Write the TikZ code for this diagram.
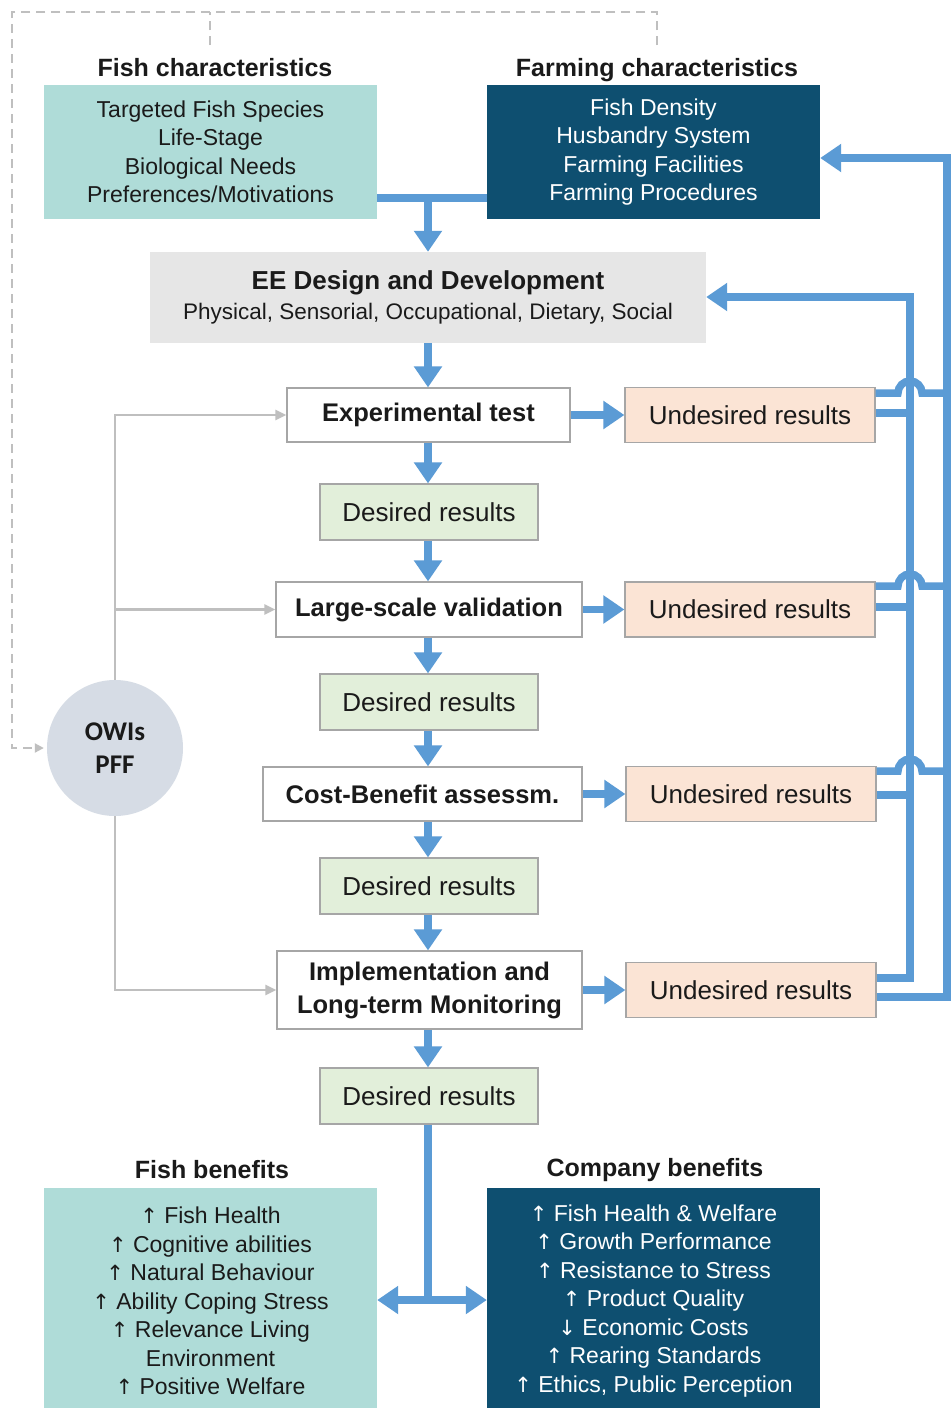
\documentclass[tikz,border=0pt]{standalone}
\usepackage{fontspec}
\setmainfont{Liberation Sans}
\newfontfamily\calibri{Carlito}
\newfontfamily\arrowfont{DejaVu Sans}
\newcommand\upar{{\arrowfont\fontsize{21}{28.5}\selectfont ↑}}
\newcommand\downar{{\arrowfont\fontsize{21}{28.5}\selectfont ↓}}
\usetikzlibrary{arrows.meta}
\definecolor{teal1}{HTML}{AFDCD8}
\definecolor{navy1}{HTML}{0E4F70}
\definecolor{grey1}{HTML}{E6E6E6}
\definecolor{peach}{HTML}{FBE4D5}
\definecolor{green1}{HTML}{E2EFDA}
\definecolor{circ}{HTML}{D6DCE5}
\definecolor{flow}{HTML}{5B9BD5}
\definecolor{conn}{HTML}{BFBFBF}
\definecolor{bord}{HTML}{A6A6A6}
\definecolor{txt}{HTML}{1A1A1A}
\begin{document}
\begin{tikzpicture}[x=1pt,y=-1pt,
  box/.style={draw=bord, line width=1.2pt, inner sep=0pt, align=center, text=txt,
    font=\fontsize{26}{30}\selectfont},
  procbox/.style={box, fill=white, font=\bfseries\fontsize{25.5}{33}\selectfont},
  undbox/.style={box, fill=peach, minimum width=250pt, minimum height=55pt},
  desbox/.style={box, fill=green1, minimum width=218pt, minimum height=56pt},
  infobox/.style={inner sep=0pt, align=center, minimum width=333pt,
    font=\fontsize{23}{28.5}\selectfont},
  titlestyle/.style={inner sep=0pt, text=txt, font=\bfseries\fontsize{25}{30}\selectfont},
  flowline/.style={draw=flow, line width=7.5pt},
  flowarr/.style={flowline, -{Triangle[width=27pt,length=21pt]}},
  conline/.style={draw=conn, line width=2.5pt, -{Triangle[width=10pt,length=11pt]}},
  dashln/.style={draw=conn, line width=2pt, dash pattern=on 9pt off 6pt}
]
\useasboundingbox[fill=white] (0,0) rectangle (952,1408);

% titles
\node[titlestyle] (fishT) at (215,68) {Fish characteristics};
\node[titlestyle] (farmT) at (657,70) {Farming characteristics};
\node[titlestyle] (fbT) at (212,1170) {Fish benefits};
\node[titlestyle] (cbT) at (655,1170) {Company benefits};

% top info boxes
\node[infobox, fill=teal1, text=txt, minimum height=134pt] (fishc) at (210.5,152)
  {Targeted Fish Species\\Life-Stage\\Biological Needs\\Preferences/Motivations};
\node[infobox, fill=navy1, text=white, minimum height=134pt] (farm) at (653.5,152)
  {Fish Density\\Husbandry System\\Farming Facilities\\Farming Procedures};

% EE box
\node[inner sep=0pt, fill=grey1, minimum width=556pt, minimum height=91pt, align=center, text=txt] (ee) at (428,297.5)
  {{\bfseries\fontsize{26}{30}\selectfont EE Design and Development}\\[7pt]
   {\fontsize{22.5}{28}\selectfont Physical, Sensorial, Occupational, Dietary, Social}};

% process column
\node[procbox, minimum width=283pt, minimum height=54pt] (exp) at (428.5,415) {Experimental test};
\node[undbox] (und1) at (750,415) {Undesired results};
\node[desbox] (des1) at (429,512) {Desired results};
\node[procbox, minimum width=306pt, minimum height=55pt] (large) at (429,609.5) {Large-scale validation};
\node[undbox] (und2) at (750,609.5) {Undesired results};
\node[desbox] (des2) at (429,702) {Desired results};
\node[procbox, minimum width=319pt, minimum height=54pt] (cost) at (422.5,794) {Cost-Benefit assessm.};
\node[undbox] (und3) at (751,794) {Undesired results};
\node[desbox] (des3) at (429,886) {Desired results};
\node[procbox, minimum width=305pt, minimum height=78pt] (impl) at (429.5,990) {Implementation and\\Long-term Monitoring};
\node[undbox] (und4) at (751,990) {Undesired results};
\node[desbox] (des4) at (429,1096) {Desired results};

% OWIs circle
\node[circle, fill=circ, minimum size=136pt, inner sep=0pt, align=center, text=txt,
  font=\calibri\bfseries\fontsize{27}{33}\selectfont] (owi) at (115,748) {OWIs\\PFF};

% bottom benefit boxes
\node[infobox, fill=teal1, text=txt, minimum height=226pt] (fishb) at (210.5,1301)
  {\upar{} Fish Health\\\upar{} Cognitive abilities\\\upar{} Natural Behaviour\\\upar{} Ability Coping Stress\\\upar{} Relevance Living\\Environment\\\upar{} Positive Welfare};
\node[infobox, fill=navy1, text=white, minimum height=226pt] (compb) at (653.5,1301)
  {\upar{} Fish Health \& Welfare\\\upar{} Growth Performance\\\upar{} Resistance to Stress\\\upar{} Product Quality\\\downar{} Economic Costs\\\upar{} Rearing Standards\\\upar{} Ethics, Public Perception};

% dashed feedback line
\coordinate (dA) at (210,45);
\coordinate (dB) at (657,45);
\draw[dashln] (dA) -- (210,12);
\draw[dashln, -{Triangle[width=9pt,length=9pt]}, shorten >=3pt] (dB) -- (657,12) -- (12,12) -- (12,748) -- (owi.west);

% grey connectors from OWIs
\draw[conline] (owi.north) |- (exp.west);
\draw[conline] (owi.north |- large.west) -- (large.west);
\draw[conline] (owi.south) |- (impl.west);

% blue flow: top
\coordinate (j1) at (428,198);
\draw[flowline] (fishc.east |- j1) -- (farm.west |- j1);
\draw[flowarr] (j1) -- (j1 |- ee.north);

% blue flow: column
\draw[flowarr] (ee.south) -- (ee.south |- exp.north);
\draw[flowarr] (ee.south |- exp.south) -- (ee.south |- des1.north);
\draw[flowarr] (ee.south |- des1.south) -- (ee.south |- large.north);
\draw[flowarr] (ee.south |- large.south) -- (ee.south |- des2.north);
\draw[flowarr] (ee.south |- des2.south) -- (ee.south |- cost.north);
\draw[flowarr] (ee.south |- cost.south) -- (ee.south |- des3.north);
\draw[flowarr] (ee.south |- des3.south) -- (ee.south |- impl.north);
\draw[flowarr] (ee.south |- impl.south) -- (ee.south |- des4.north);

\draw[flowarr] (exp.east) -- (und1.west);
\draw[flowarr] (large.east) -- (und2.west);
\draw[flowarr] (cost.east) -- (und3.west);
\draw[flowarr] (impl.east) -- (und4.west);

% blue flow: bottom
\coordinate (j2) at (428,1300);
\draw[flowline] (ee.south |- des4.south) -- (j2);
\draw[flowline, {Triangle[width=27pt,length=21pt]}-{Triangle[width=27pt,length=21pt]}] (fishb.east |- j2) -- (compb.west |- j2);

% right side feedback lines
\draw[flowarr] (und4.east |- 0,978) -- (910,978) -- (910,297) -- (ee.east |- 0,297);
\draw[flowarr] (und4.east |- 0,997) -- (947,997) -- (947,158) -- (farm.east |- 0,158);
\draw[flowline] (und1.east |- 0,413) -- (910,413);
\draw[flowline] (und2.east |- 0,607) -- (910,607);
\draw[flowline] (und3.east |- 0,795) -- (910,795);
\draw[flowline] (und1.east |- 0,393) -- (898,393) arc[start angle=180, end angle=360, radius=12] -- (947,393);
\draw[flowline] (und2.east |- 0,586) -- (898,586) arc[start angle=180, end angle=360, radius=12] -- (947,586);
\draw[flowline] (und3.east |- 0,771) -- (898,771) arc[start angle=180, end angle=360, radius=12] -- (947,771);
\end{tikzpicture}
\end{document}
